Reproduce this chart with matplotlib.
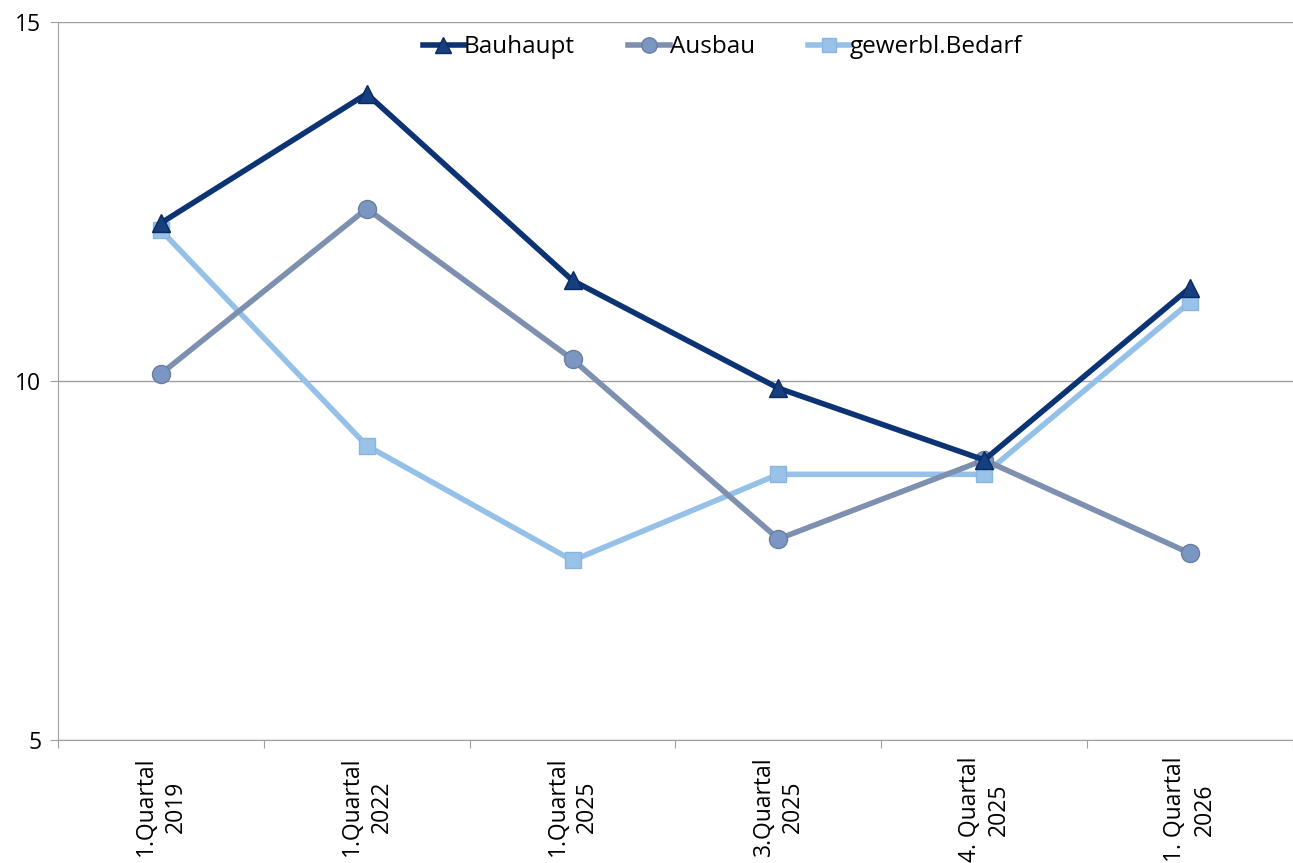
import numpy as np
import matplotlib
matplotlib.use('Agg')
from matplotlib import pyplot as plt

plt.rcParams['font.family'] = ['Open Sans', 'DejaVu Sans']

categories = ['1.Quartal\n2019', '1.Quartal\n2022', '1.Quartal\n2025',
              '3.Quartal\n2025', '4. Quartal\n2025', '1. Quartal\n2026']
bauhaupt = [12.2, 14.0, 11.4, 9.9, 8.9, 11.3]
ausbau = [10.1, 12.4, 10.3, 7.8, 8.9, 7.6]
gewerbl = [12.1, 9.1, 7.5, 8.7, 8.7, 11.1]

fig = plt.figure(figsize=(12.93, 8.63), dpi=100)
ax = fig.add_axes([58/1293, 1 - 740/863, 1 - 58/1293, (740-22)/863])

x = np.arange(len(categories))
ax.plot(x, bauhaupt, color='#0c3474', lw=4, marker='^', ms=13,
        mfc='#153f80', mec='#0a2a60', label='Bauhaupt', zorder=5)
ax.plot(x, ausbau, color='#7e90b0', lw=4, marker='o', ms=13,
        mfc='#7b96c2', mec='#6a7fa0', label='Ausbau', zorder=4)
ax.plot(x, gewerbl, color='#95c1e8', lw=4, marker='s', ms=12,
        mfc='#98c2e8', mec='#8ab6de', label='gewerbl.Bedarf', zorder=3)

ax.set_xlim(-0.5, 5.5)
ax.set_ylim(5, 15)
ax.set_yticks([5, 10, 15])
ax.yaxis.grid(True, color='#a0a0a0', lw=1)
ax.set_axisbelow(True)
ax.set_xticks(np.arange(-0.5, 6, 1))
ax.set_xticklabels([])
ax.set_xticks(x, minor=True)
ax.set_xticklabels(categories, minor=True, rotation=90, ha='center',
                   va='top', multialignment='center', fontsize=16.5,
                   linespacing=1.3)
ax.tick_params(axis='x', which='minor', length=0, pad=12)
ax.tick_params(axis='x', which='major', length=6, color='#a0a0a0')
ax.tick_params(axis='y', length=6, color='#a0a0a0', labelsize=16.5, pad=6)

for s in ['top', 'right']:
    ax.spines[s].set_visible(False)
for s in ['left', 'bottom']:
    ax.spines[s].set_color('#a0a0a0')

ax.legend(loc='upper center', bbox_to_anchor=(0.538, 1.0), ncol=3, frameon=False,
          fontsize=17.5, handlelength=1.7, handletextpad=0.0, columnspacing=2.2,
          borderaxespad=0.15, markerscale=0.85)

fig.savefig('out.png', dpi=100)
